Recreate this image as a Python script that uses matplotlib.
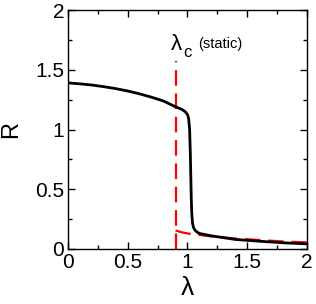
import matplotlib
matplotlib.use("Agg")
import matplotlib.pyplot as plt
from matplotlib.ticker import MultipleLocator

plt.rcParams['font.family'] = ['Liberation Sans', 'DejaVu Sans']

# black curve R(lambda)
lam = [0.0, 0.1, 0.2, 0.3, 0.4, 0.5, 0.6, 0.7, 0.8, 0.9, 0.95, 0.98, 1.0, 1.01,
       1.018, 1.024, 1.028, 1.032, 1.036, 1.042, 1.05, 1.065, 1.08, 1.1, 1.2,
       1.4, 1.6, 1.8, 2.0]
R = [1.39, 1.382, 1.372, 1.358, 1.342, 1.322, 1.298, 1.27, 1.238, 1.19, 1.17,
     1.15, 1.125, 1.09, 1.0, 0.8, 0.6, 0.42, 0.3, 0.22, 0.18, 0.155, 0.142,
     0.13, 0.11, 0.08, 0.065, 0.052, 0.043]

# red dashed (static)
lam_c = 0.9
lam_s = [0.9, 0.95, 1.0, 1.1, 1.2, 1.4, 1.6, 1.8, 2.0]
R_s = [0.155, 0.14, 0.13, 0.118, 0.105, 0.088, 0.075, 0.063, 0.055]

fig = plt.figure(figsize=(3.16, 3.04), dpi=100)
ax = fig.add_axes([0.216, 0.181, 0.7545, 0.786])

ax.plot([lam_c, lam_c], [0, 1.57], color='red', lw=1.6, dashes=(7, 3.5))
ax.plot(lam_s, R_s, color='red', lw=1.6, dashes=(7, 3.5))
ax.plot(lam, R, color='black', lw=2.0)

ax.set_xlim(0, 2)
ax.set_ylim(0, 2)
ax.xaxis.set_major_locator(MultipleLocator(0.5))
ax.yaxis.set_major_locator(MultipleLocator(0.5))
ax.xaxis.set_minor_locator(MultipleLocator(0.25))
ax.yaxis.set_minor_locator(MultipleLocator(0.25))
ax.xaxis.set_major_formatter(plt.FuncFormatter(lambda v, p: f"{v:g}"))
ax.yaxis.set_major_formatter(plt.FuncFormatter(lambda v, p: f"{v:g}"))
ax.tick_params(which='both', direction='in', top=True, right=True, width=1)
ax.tick_params(which='major', length=5, labelsize=15, pad=3)
ax.tick_params(which='minor', length=3)
for s in ax.spines.values():
    s.set_linewidth(1)

ax.set_xlabel('λ', fontsize=19, labelpad=3)
ax.set_ylabel('R', fontsize=17, labelpad=9)

ax.text(0.862, 1.665, 'λ', fontsize=16, ha='left', va='baseline')
ax.text(0.962, 1.61, 'c', fontsize=12, ha='left', va='baseline')
ax.text(1.09, 1.686, '(static)', fontsize=10.5, ha='left', va='baseline')

fig.savefig('out.png', dpi=100)
